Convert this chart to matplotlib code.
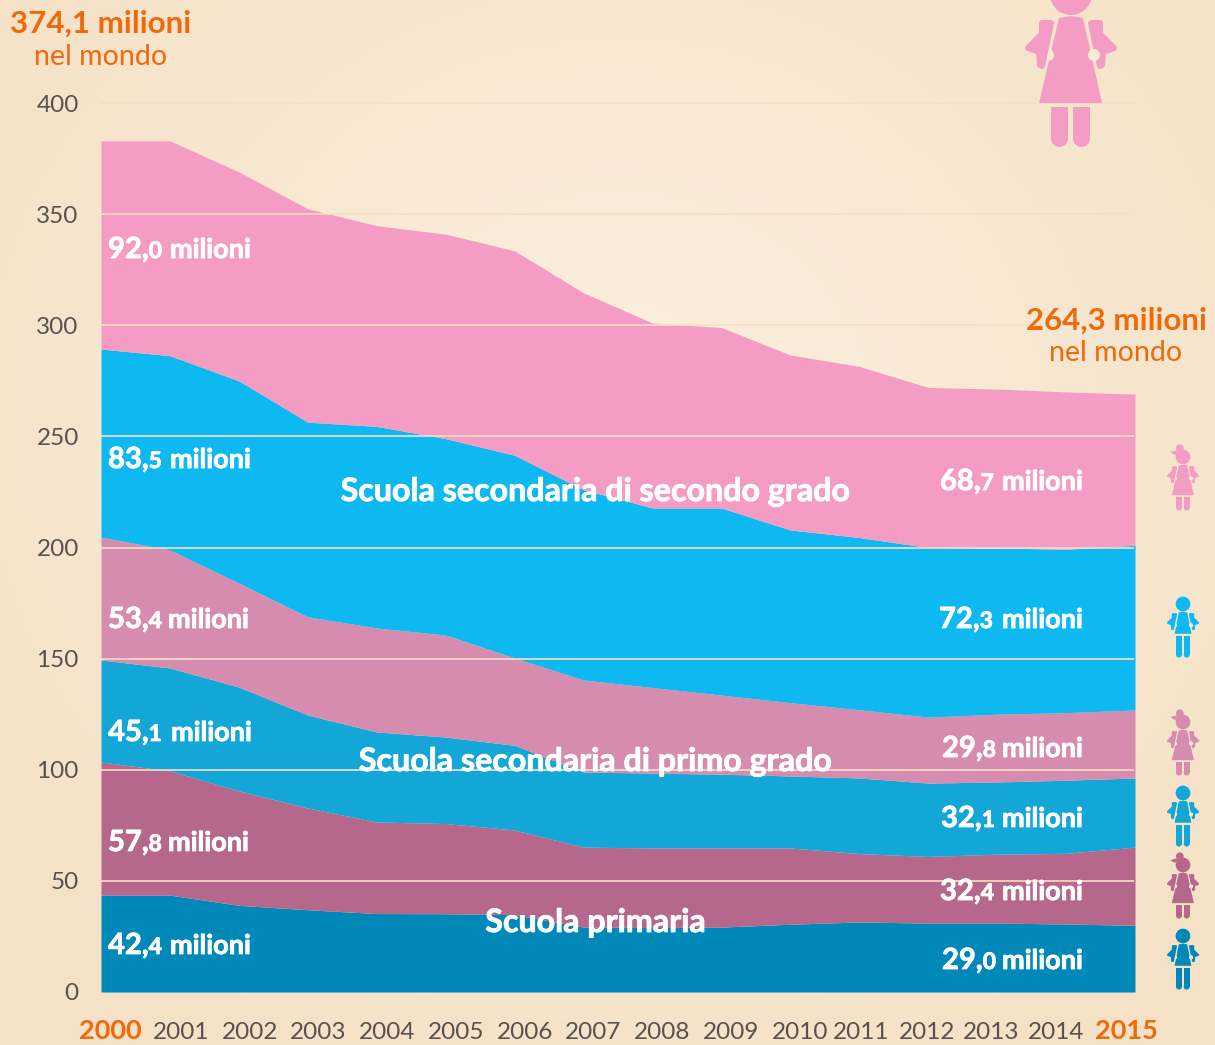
import numpy as np
import matplotlib
matplotlib.use('Agg')
import matplotlib.pyplot as plt
import matplotlib.patheffects as pe
from matplotlib.patches import Polygon, Circle

plt.rcParams['font.family'] = ['Lato', 'DejaVu Sans']

years = list(range(2000, 2016))

# upper edge of each stacked band (milioni)
primaria_maschi = [43.6, 43.6, 39, 37, 35.3, 35.2, 34.8, 29.2, 29, 29.2, 30.5, 31.5, 31, 31, 30.6, 30]
primaria_femmine = [103.5, 99.5, 90.5, 82.8, 76.5, 75.8, 72.9, 65.2, 64.8, 64.8, 64.8, 62.3, 61, 62, 62.4, 65.2]
primo_maschi = [149.4, 145.8, 137.2, 124.6, 117, 114.7, 111, 99, 98.5, 98, 97.2, 96.3, 94, 94.5, 95.3, 96.3]
primo_femmine = [204.7, 198.9, 184, 168.8, 163.8, 160.6, 150.3, 140.4, 137, 133.6, 130.2, 127, 123.7, 125, 125.7, 126.9]
secondo_maschi = [289.3, 286.3, 275, 256.4, 254.5, 249, 241.5, 226, 217.8, 217.8, 207.9, 204.5, 200, 199.8, 199.2, 201]
secondo_femmine = [383, 383, 369, 352.4, 344.8, 341, 333.5, 314.6, 301, 299, 286.6, 281.5, 272, 271.3, 270, 269]

bande = [primaria_maschi, primaria_femmine, primo_maschi, primo_femmine, secondo_maschi, secondo_femmine]
colori = ['#0088B9', '#B5688C', '#12A7D6', '#D58CAE', '#0DB9F0', '#F49CC4']

yticks = [0, 50, 100, 150, 200, 250, 300, 350, 400]
xlabels = ['2000', '2001', '2002', '2003', '2004', '2005', '2006', '2007',
           '2008', '2009', '2010', '2011', '2012', '2013', '2014', '2015']
# the year labels are hand placed in the original, not on the vertices
xlabel_pos = [2000.13, 2001.16, 2002.16, 2003.15, 2004.15, 2005.15, 2006.15, 2007.14,
              2008.14, 2009.14, 2010.14, 2011.03, 2011.98, 2012.91, 2013.85, 2014.88]

etichette_sx = [('92,', '0', 108, 170, 258), ('83,', '5', 108, 170, 468), ('53,', '4', 108, 168, 628),
                ('45,', '1', 108, 171, 741), ('57,', '8', 108, 168, 851), ('42,', '4', 108, 170, 954)]
etichette_dx = [('68,', '7', 940, 1002, 490), ('72,', '3', 939, 1002, 628), ('29,', '8', 942, 1002, 757),
                ('32,', '1', 941, 1002, 827), ('32,', '4', 940, 1002, 900), ('29,', '0', 942, 1002, 969)]

ARANCIO = '#F0690A'
GRIGIO = '#57524E'
BIANCO = '#FFFFFF'
FONDO = '#F8EAD5'
GRASSETTO = [pe.withStroke(linewidth=0.6, foreground=BIANCO)]

fig = plt.figure(figsize=(12.15, 10.45), dpi=100)

# sfondo sfumato
bg = fig.add_axes([0, 0, 1, 1], zorder=0)
yy, xx = np.mgrid[0:1045:260j, 0:1215:300j]
d = np.sqrt(((xx - 620) / 800) ** 2 + ((yy - 420) / 720) ** 2)
d = np.clip(d, 0, 1)[..., None]
chiaro = np.array([250, 240, 223]) / 255
scuro = np.array([245, 225, 198]) / 255
bg.imshow(chiaro * (1 - d) + scuro * d, extent=[0, 1215, 1045, 0], aspect='auto')
bg.axis('off')

# grafico
ax = fig.add_axes([101 / 1215, 1 - 992 / 1045, 1034 / 1215, 889 / 1045], zorder=1)
ax.patch.set_alpha(0)
base = np.zeros(len(years))
for banda, colore in zip(bande, colori):
    ax.fill_between(years, base, banda, color=colore, lw=0, zorder=1)
    base = np.array(banda)
ax.set_xlim(2000, 2015)
ax.set_ylim(0, 400)
for s in ax.spines.values():
    s.set_visible(False)
ax.set_yticks(yticks)
ax.set_yticklabels([str(v) for v in yticks], fontsize=17.5, color=GRIGIO)
ax.tick_params(axis='y', length=0, pad=16)
ax.set_xticks(xlabel_pos)
ax.set_xticklabels(xlabels, fontsize=17.5, color=GRIGIO, va='baseline')
ax.tick_params(axis='x', length=0, pad=34)
for i in (0, 15):
    t = ax.get_xticklabels()[i]
    t.set_color(ARANCIO)
    t.set_fontweight('bold')
    t.set_fontsize(19.5)
for v in yticks[1:]:
    ax.plot([2000, 2014.97], [v, v], color='#F8DFC3', lw=1.4, alpha=0.85, zorder=2, clip_on=False)

# testi e icone in coordinate pixel
ov = fig.add_axes([0, 0, 1, 1], zorder=2)
ov.set_xlim(0, 1215)
ov.set_ylim(1045, 0)
ov.axis('off')


def bambino(cx, cy, k, colore, femmina=True):
    def P(pts):
        return [(cx + k * x, cy + k * y) for x, y in pts]
    ov.add_patch(Circle((cx, cy), 21 * k, color=colore, lw=0))
    if femmina:
        ov.add_patch(Polygon(P([(-12, 24), (0, 22), (12, 24), (31, 109), (-32, 109)]), color=colore, lw=0))
    else:
        ov.add_patch(Polygon(P([(-12, 24), (0, 22), (12, 24), (24, 85), (-24, 85)]), color=colore, lw=0))
    for s in (-1, 1):
        braccio = [(-29, 29), (-20, 29), (-25, 53), (-29, 72), (-31, 71), (-32, 58), (-43, 54), (-29, 40)]
        ov.add_patch(Polygon(P([(s * x, y) for x, y in braccio]), facecolor=colore, edgecolor=colore,
                             lw=4.3 * k, joinstyle='round'))
        ov.add_patch(Circle((cx + s * 23 * k, cy + 61 * k), 6 * k, color=FONDO, lw=0))
    top = 113 if femmina else 91
    for a, b in ((-20, -3), (2, 19)):
        ov.add_patch(Polygon(P([(a, top), (b, top), (b, 144.5), (a, 144.5)]), color=colore, lw=0))
        ov.add_patch(Circle((cx + k * (a + b) / 2, cy + 144.5 * k), 8.5 * k, color=colore, lw=0))
    if femmina and k < 1:
        ov.add_patch(Circle((cx - 9 * k, cy - 25 * k), 11 * k, color=colore, lw=0))
        ov.add_patch(Polygon(P([(-14, -20), (-36, -14), (-24, -6), (-16, -10)]), color=colore, lw=0))


bambino(1071, -6, 1, colori[5])
bambino(1183, 457, 0.35, colori[5])
bambino(1183, 604, 0.35, colori[4], femmina=False)
bambino(1183, 722, 0.35, colori[3])
bambino(1183, 793, 0.35, colori[2], femmina=False)
bambino(1183, 865, 0.35, colori[1])
bambino(1183, 936, 0.35, colori[0], femmina=False)

for big, dec, x0, x1, yb in etichette_sx + etichette_dx:
    t = ov.text(x0, yb, big, color=BIANCO, fontsize=21, fontweight='bold', va='baseline', path_effects=GRASSETTO)
    fig.canvas.draw()
    e = t.get_window_extent()
    ov.text(e.x1, yb, dec, color=BIANCO, fontsize=16.5, fontweight='bold', va='baseline', path_effects=GRASSETTO)
    ov.text(x1, yb, 'milioni', color=BIANCO, fontsize=19.5, fontweight='bold', va='baseline', path_effects=GRASSETTO)

ov.text(595.5, 501, 'Scuola secondaria di secondo grado', color=BIANCO, fontsize=23.2, fontweight='bold',
        ha='center', va='baseline', path_effects=GRASSETTO)
ov.text(595.5, 771, 'Scuola secondaria di primo grado', color=BIANCO, fontsize=23.2, fontweight='bold',
        ha='center', va='baseline', path_effects=GRASSETTO)
ov.text(595.5, 932, 'Scuola primaria', color=BIANCO, fontsize=23.2, fontweight='bold',
        ha='center', va='baseline', path_effects=GRASSETTO)

ov.text(101, 33, '374,1 milioni', color=ARANCIO, fontsize=22.5, fontweight='bold', ha='center', va='baseline')
ov.text(101, 65, 'nel mondo', color=ARANCIO, fontsize=20.5, ha='center', va='baseline')
ov.text(1116, 330, '264,3 milioni', color=ARANCIO, fontsize=22.5, fontweight='bold', ha='center', va='baseline')
ov.text(1116, 361, 'nel mondo', color=ARANCIO, fontsize=20.5, ha='center', va='baseline')

fig.savefig('out.png', dpi=100)
